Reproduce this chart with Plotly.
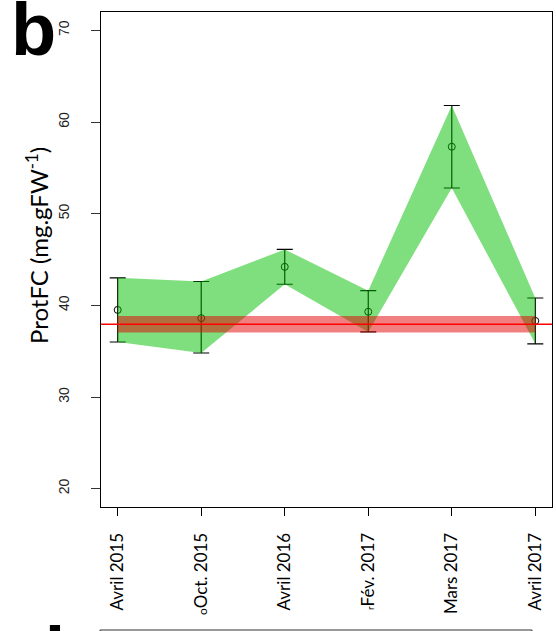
import plotly.graph_objects as go

# ---- data ----
categories = ["Avril 2015", "Oct. 2015", "Avril 2016", "Fév. 2017", "Mars 2017", "Avril 2017"]
tick_text = ["Avril 2015", "<span style='font-size:12px'>o</span>Oct. 2015", "Avril 2016",
             "<span style='font-size:10px'>r</span>Fév. 2017", "Mars 2017", "Avril 2017"]
means = [39.5, 38.6, 44.2, 39.3, 57.3, 38.3]
upper = [43.0, 42.6, 46.1, 41.6, 61.8, 40.8]
lower = [36.0, 34.8, 42.3, 37.1, 52.8, 35.8]
ref_value = 37.95
ref_low = 37.03
ref_high = 38.85
y_ticks = [20, 30, 40, 50, 60, 70]

W, H = 556, 631
L, R, T, B = 101, 4, 12, 124
pw = W - L - R
ph = H - T - B

def px_x(p):
    return (p - L) / pw

def px_y(p):
    return 1 - (p - T) / ph

xs = list(range(len(categories)))

fig = go.Figure()

# points with error bars (drawn first, fill overlays them)
fig.add_trace(go.Scatter(
    x=xs, y=means, mode="markers",
    marker=dict(symbol="circle-open", size=7, color="black", line=dict(width=1, color="black")),
    error_y=dict(type="data", symmetric=False,
                 array=[u - m for u, m in zip(upper, means)],
                 arrayminus=[m - l for m, l in zip(means, lower)],
                 color="black", thickness=1.2, width=8),
    showlegend=False, hoverinfo="skip",
))

# green band
fig.add_trace(go.Scatter(
    x=xs + xs[::-1], y=upper + lower[::-1], mode="lines", fill="toself",
    fillcolor="rgba(0,192,0,0.5)", line=dict(width=0), showlegend=False, hoverinfo="skip",
))

# red reference band
fig.add_trace(go.Scatter(
    x=[xs[0], xs[-1], xs[-1], xs[0]], y=[ref_low, ref_low, ref_high, ref_high],
    mode="lines", fill="toself", fillcolor="rgba(228,0,0,0.5)", line=dict(width=0),
    showlegend=False, hoverinfo="skip",
))

shapes = [
    # red reference line across the full plot width
    dict(type="line", xref="paper", yref="y", x0=0, x1=1, y0=ref_value, y1=ref_value,
         line=dict(color="red", width=1.5), layer="above"),
    # top of the next panel (cut off at the bottom)
    dict(type="rect", xref="paper", yref="paper", x0=px_x(100), x1=px_x(532),
         y0=px_y(630), y1=px_y(700), line=dict(color="#333", width=1), fillcolor="rgba(0,0,0,0)"),
]

fig.update_layout(
    width=W, height=H,
    margin=dict(l=L, r=R, t=T, b=B, pad=0),
    plot_bgcolor="white", paper_bgcolor="white",
    xaxis=dict(range=[-0.2, 5.2], tickmode="array", tickvals=xs, ticktext=tick_text,
               tickangle=-90, ticks="outside", ticklen=8, tickcolor="black", tickwidth=1,
               ticklabelstandoff=10,
               showline=True, linecolor="black", linewidth=1, mirror=True,
               showgrid=False, zeroline=False,
               tickfont=dict(family="Lato", size=17, color="black")),
    yaxis=dict(range=[18, 72], tickmode="array", tickvals=y_ticks,
               tickangle=-90, ticks="outside", ticklen=9, tickcolor="#333", tickwidth=1,
               ticklabelstandoff=16,
               showline=True, linecolor="black", linewidth=1, mirror=True,
               showgrid=False, zeroline=False,
               tickfont=dict(family="Liberation Sans", size=14, color="#222")),
    annotations=[
        dict(text="ProtFC (mg.gFW<sup>-1</sup>)", textangle=-90, xref="paper", yref="paper",
             x=px_x(37), y=px_y(246), xanchor="center", yanchor="middle", showarrow=False,
             font=dict(family="Lato", size=24, color="black")),
        dict(text="<b>b</b>", xref="paper", yref="paper", x=px_x(9), y=px_y(-14),
             xanchor="left", yanchor="top", showarrow=False,
             font=dict(family="Liberation Sans", size=74, color="black")),
        dict(text="<b>d</b>", xref="paper", yref="paper", x=px_x(18), y=px_y(610),
             xanchor="left", yanchor="top", showarrow=False,
             font=dict(family="Liberation Sans", size=74, color="black")),
    ],
    shapes=shapes,
)

fig.write_html("out.html", post_script="document.body.style.margin='0';",
               config={"displayModeBar": False})
